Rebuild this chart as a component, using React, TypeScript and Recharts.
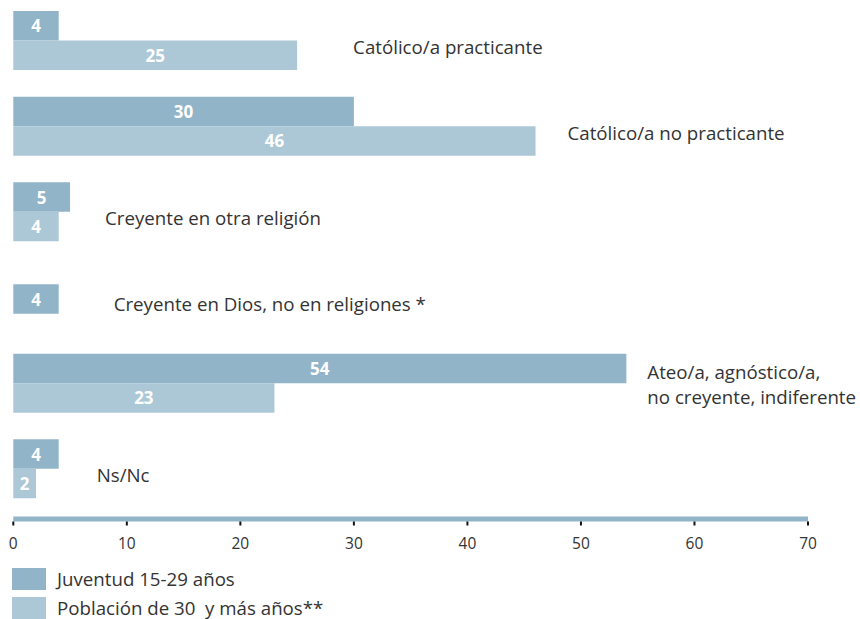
import React from 'react';
import { BarChart, Bar, XAxis, YAxis, LabelList, Legend, Rectangle } from 'recharts';

// values
const categories = [
  'Católico/a practicante',
  'Católico/a no practicante',
  'Creyente en otra religión',
  'Creyente en Dios, no en religiones *',
  'Ateo/a, agnóstico/a,\nno creyente, indiferente',
  'Ns/Nc',
];
const juventud = [4, 30, 5, 4, 54, 4];
const poblacion: (number | null)[] = [25, 46, 4, null, 23, 2];
const xTicks = [0, 10, 20, 30, 40, 50, 60, 70];

const seriesNames = ['Juventud 15-29 años', 'Población de 30  y más años**'];

// layout: distance from the longest bar to the category text
const labelGap = [56, 32, 35, 55, 21, 38];

const DARK = '#92b4c8';
const LIGHT = '#acc8d7';
const TEXT = '#333333';
const FONT = '"Open Sans", Arial, sans-serif';
const BAR_SIZE = 29.5;

const data = categories.map((name, i) => ({
  name,
  juventud: juventud[i],
  poblacion: poblacion[i],
}));

const single = (i: number) => poblacion[i] == null;

// eslint-disable-next-line @typescript-eslint/no-explicit-any
function YouthShape(props: any) {
  const shift = single(props.index) ? BAR_SIZE / 2 + 1.5 : 0;
  return <Rectangle {...props} y={props.y + shift} />;
}

// eslint-disable-next-line @typescript-eslint/no-explicit-any
function ValueLabel(props: any) {
  const { viewBox, value, index } = props;
  if (value == null || !viewBox) return null;
  const shift = props.shiftSingle && single(index) ? BAR_SIZE / 2 + 1.5 : 0;
  return (
    <text
      x={viewBox.x + viewBox.width / 2}
      y={viewBox.y + viewBox.height / 2 + shift}
      textAnchor="middle"
      dominantBaseline="central"
      fill="#ffffff"
      fontFamily={FONT}
      fontWeight={700}
      fontSize={17}
    >
      {value}
    </text>
  );
}

// eslint-disable-next-line @typescript-eslint/no-explicit-any
function CategoryLabel(props: any) {
  const { viewBox, index } = props;
  if (!viewBox) return null;
  const y0 = juventud[index];
  const longest = Math.max(y0, poblacion[index] ?? 0);
  const x = viewBox.x + (viewBox.width * longest) / y0 + labelGap[index];
  const center = viewBox.y + viewBox.height;
  const lines = categories[index].split('\n');
  const lh = 25;
  const top = center - ((lines.length - 1) * lh) / 2 + (lines.length === 1 ? 5.5 : 0);
  return (
    <text x={x} fill={TEXT} fontFamily={FONT} fontSize={18.7} dominantBaseline="central">
      {lines.map((l, k) => (
        <tspan key={k} x={x} y={top + k * lh}>
          {l}
        </tspan>
      ))}
    </text>
  );
}

// eslint-disable-next-line @typescript-eslint/no-explicit-any
function AxisTick(props: any) {
  const { x, y, payload } = props;
  return (
    <g>
      <line x1={x} x2={x} y1={y + 2.5} y2={y + 6.5} stroke="#111" strokeWidth={2} />
      <text
        x={x}
        y={y + 24}
        textAnchor="middle"
        dominantBaseline="central"
        fill={TEXT}
        fontFamily={FONT}
        fontSize={15.5}
      >
        {payload.value}
      </text>
    </g>
  );
}

function LegendContent() {
  const colors = [DARK, LIGHT];
  return (
    <div style={{ display: 'flex', flexDirection: 'column', gap: 7, fontFamily: FONT }}>
      {seriesNames.map((n, i) => (
        <div key={n} style={{ display: 'flex', alignItems: 'center', height: 22 }}>
          <span style={{ width: 34, height: 22, background: colors[i], display: 'inline-block' }} />
          <span style={{ marginLeft: 11, fontSize: 18.7, lineHeight: '22px', color: TEXT, whiteSpace: 'pre' }}>
            {n}
          </span>
        </div>
      ))}
    </div>
  );
}

export default function App() {
  return (
    <div style={{ position: 'absolute', left: 0, top: 0, background: '#fff' }}>
      <BarChart
        width={860}
        height={619}
        data={data}
        layout="vertical"
        barSize={BAR_SIZE}
        barGap={0}
        margin={{ top: -2, right: 52, left: 13.3, bottom: 60 }}
      >
        <XAxis
          type="number"
          domain={[0, 70]}
          ticks={xTicks}
          interval={0}
          height={40}
          tickSize={0}
          tickMargin={0}
          tickLine={false}
          axisLine={{ stroke: DARK, strokeWidth: 5 }}
          tick={<AxisTick />}
        />
        <YAxis type="category" dataKey="name" hide padding={{ top: 0, bottom: 7 }} />
        <Legend
          layout="horizontal"
          verticalAlign="middle"
          align="center"
          wrapperStyle={{ top: 568, left: 12, width: 'auto' }}
          content={<LegendContent />}
        />
        <Bar dataKey="juventud" name={seriesNames[0]} fill={DARK} isAnimationActive={false} shape={<YouthShape />}>
          <LabelList dataKey="juventud" content={<ValueLabel shiftSingle />} />
          <LabelList dataKey="juventud" content={<CategoryLabel />} />
        </Bar>
        <Bar dataKey="poblacion" name={seriesNames[1]} fill={LIGHT} isAnimationActive={false}>
          <LabelList dataKey="poblacion" content={<ValueLabel />} />
        </Bar>
      </BarChart>
    </div>
  );
}
